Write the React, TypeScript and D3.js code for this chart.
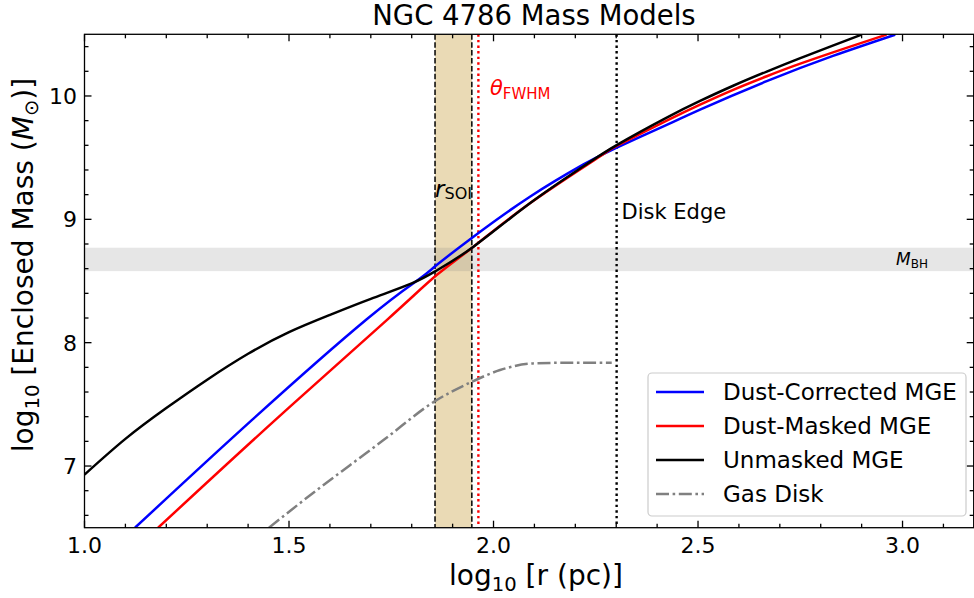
import React from "react";
import * as d3 from "d3";

const W = 974;
const H = 598;

const xDomain = [1.0, 3.174];
const yDomain = [6.5, 10.5];
const xMajor = [1.0, 1.5, 2.0, 2.5, 3.0];
const xMajorLabels = ["1.0", "1.5", "2.0", "2.5", "3.0"];
const yMajor = [7, 8, 9, 10];
const yMajorLabels = ["7", "8", "9", "10"];

const blueX = [1.1235, 1.409, 1.69, 1.816, 1.861, 1.951, 2.089, 2.22, 2.3, 2.4235, 2.505, 2.668, 2.83, 2.982];
const blueY = [6.5, 7.372, 8.19, 8.51, 8.629, 8.859, 9.183, 9.445, 9.58, 9.765, 9.89, 10.12, 10.325, 10.497];

const redX = [1.18, 1.466, 1.739, 1.861, 1.951, 2.089, 2.26, 2.301, 2.4235, 2.505, 2.586, 2.668, 2.75, 2.872, 2.961];
const redY = [6.5, 7.372, 8.183, 8.548, 8.778, 9.13, 9.51, 9.595, 9.8, 9.93, 10.05, 10.16, 10.262, 10.4, 10.497];

const blackX = [1.0, 1.1, 1.2, 1.3, 1.4, 1.5, 1.6, 1.7, 1.8, 1.861, 1.951, 2.089, 2.22, 2.3, 2.4235, 2.505, 2.586, 2.668, 2.75, 2.831, 2.9];
const blackY = [6.93, 7.22, 7.47, 7.7, 7.91, 8.085, 8.225, 8.355, 8.48, 8.585, 8.778, 9.13, 9.43, 9.6, 9.825, 9.96, 10.083, 10.198, 10.307, 10.41, 10.497];

const gasX = [1.451, 1.568, 1.649, 1.731, 1.857, 1.947, 2.016, 2.097, 2.179, 2.289];
const gasY = [6.5, 6.805, 7.007, 7.21, 7.526, 7.683, 7.778, 7.832, 7.837, 7.837];

const rSoi = [1.857, 1.947];
const thetaFwhm = 1.963;
const diskEdge = 2.301;
const mbhBand = [8.58, 8.77];

const legendLabels = ["Dust-Corrected MGE", "Dust-Masked MGE", "Unmasked MGE", "Gas Disk"];
const legendColors = ["blue", "red", "black", "gray"];

const FONT = "'DejaVu Sans', sans-serif";
const GAS_DASH = "13,3.6,2.6,3.6";

export default function App() {
  const left = 84.5, right = 973.7, top = 34.3, bottom = 527.7;
  const x = d3.scaleLinear().domain(xDomain).range([left, right]);
  const y = d3.scaleLinear().domain(yDomain).range([bottom, top]);

  const mk = (xs: number[], ys: number[], curve: d3.CurveFactory) =>
    d3.line<number>().x((_, i) => x(xs[i])).y((_, i) => y(ys[i])).curve(curve)(xs) as string;

  const xMinor = d3.range(10, 32).map((v) => v / 10).filter((v) => !xMajor.some((m) => Math.abs(m - v) < 1e-6));
  const yMinor = d3.range(33, 53).map((v) => v / 5).filter((v) => v < 10.5 && !yMajor.some((m) => Math.abs(m - v) < 1e-6));

  const tickW = 1.3;
  const MAJ = 7, MIN = 4;
  const LW = 2.5;

  return (
    <svg width={W} height={H} style={{ position: "absolute", left: 0, top: 0, background: "white" }} fontFamily={FONT}>
      <defs>
        <clipPath id="plot">
          <rect x={left} y={top} width={right - left} height={bottom - top} />
        </clipPath>
      </defs>
      <rect x={0} y={0} width={W} height={H} fill="white" />
      <g clipPath="url(#plot)">
        <rect x={x(rSoi[0])} y={top} width={x(rSoi[1]) - x(rSoi[0])} height={bottom - top} fill="darkgoldenrod" fillOpacity={0.3} />
        <rect x={left} y={y(mbhBand[1])} width={right - left} height={y(mbhBand[0]) - y(mbhBand[1])} fill="gray" fillOpacity={0.2} />
        {rSoi.map((v, i) => (
          <line key={i} x1={x(v)} x2={x(v)} y1={top} y2={bottom} stroke="black" strokeWidth={1.5} strokeDasharray="5.5,2.4" />
        ))}
        <line x1={x(thetaFwhm)} x2={x(thetaFwhm)} y1={top} y2={bottom} stroke="red" strokeWidth={2.4} strokeDasharray="2.4,3.2" />
        <line x1={x(diskEdge)} x2={x(diskEdge)} y1={top} y2={bottom} stroke="black" strokeWidth={2.4} strokeDasharray="2.4,3.2" />
        <path d={mk(gasX, gasY, d3.curveMonotoneX)} fill="none" stroke="gray" strokeWidth={LW} strokeDasharray={GAS_DASH} />
        <path d={mk(blueX, blueY, d3.curveNatural)} fill="none" stroke="blue" strokeWidth={LW} />
        <path d={mk(redX, redY, d3.curveNatural)} fill="none" stroke="red" strokeWidth={LW} />
        <path d={mk(blackX, blackY, d3.curveNatural)} fill="none" stroke="black" strokeWidth={LW} />
      </g>

      {/* spines */}
      <rect x={left} y={top} width={right - left} height={bottom - top} fill="none" stroke="black" strokeWidth={1.3} />

      {/* ticks */}
      {xMajor.map((v, i) => (
        <g key={"xm" + i}>
          <line x1={x(v)} x2={x(v)} y1={bottom} y2={bottom - MAJ} stroke="black" strokeWidth={tickW} />
          <line x1={x(v)} x2={x(v)} y1={top} y2={top + MAJ} stroke="black" strokeWidth={tickW} />
          <text x={x(v)} y={553} textAnchor="middle" fontSize={22}>{xMajorLabels[i]}</text>
        </g>
      ))}
      {xMinor.map((v, i) => (
        <g key={"xn" + i}>
          <line x1={x(v)} x2={x(v)} y1={bottom} y2={bottom - MIN} stroke="black" strokeWidth={tickW} />
          <line x1={x(v)} x2={x(v)} y1={top} y2={top + MIN} stroke="black" strokeWidth={tickW} />
        </g>
      ))}
      {yMajor.map((v, i) => (
        <g key={"ym" + i}>
          <line x1={left} x2={left + MAJ} y1={y(v)} y2={y(v)} stroke="black" strokeWidth={tickW} />
          <line x1={right} x2={right - MAJ} y1={y(v)} y2={y(v)} stroke="black" strokeWidth={tickW} />
          <text x={77} y={y(v)} dy="0.36em" textAnchor="end" fontSize={22}>{yMajorLabels[i]}</text>
        </g>
      ))}
      {yMinor.map((v, i) => (
        <g key={"yn" + i}>
          <line x1={left} x2={left + MIN} y1={y(v)} y2={y(v)} stroke="black" strokeWidth={tickW} />
          <line x1={right} x2={right - MIN} y1={y(v)} y2={y(v)} stroke="black" strokeWidth={tickW} />
        </g>
      ))}

      {/* title */}
      <text x={534} y={25} textAnchor="middle" fontSize={27.5}>NGC 4786 Mass Models</text>

      {/* x label */}
      <text x={536} y={585} textAnchor="middle" fontSize={28}>
        log<tspan fontSize={19.6} dy={6}>10</tspan><tspan dy={-6}> [r (pc)]</tspan>
      </text>

      {/* y label */}
      <text transform="translate(33,265) rotate(-90)" textAnchor="middle" fontSize={28}>
        log<tspan fontSize={19.6} dy={6}>10</tspan><tspan dy={-6}> [Enclosed Mass (</tspan><tspan fontStyle="italic">M</tspan><tspan fontSize={19.6} dy={5}>⊙</tspan><tspan dy={-5}>)]</tspan>
      </text>

      {/* annotations */}
      <text x={490} y={95} fontSize={21} fill="red">
        <tspan fontStyle="italic">θ</tspan><tspan fontSize={15} dy={4}>FWHM</tspan>
      </text>
      <text x={435} y={197} fontSize={23} fill="black">
        <tspan fontStyle="italic">r</tspan><tspan fontSize={16} dy={2}>SOI</tspan>
      </text>
      <text x={621.5} y={219} fontSize={21} fill="black">Disk Edge</text>
      <text x={896} y={265} fontSize={17} fill="black">
        <tspan fontStyle="italic">M</tspan><tspan fontSize={12} dy={3}>BH</tspan>
      </text>

      {/* legend */}
      <rect x={648} y={373} width={318} height={143} rx={4} fill="white" fillOpacity={0.8} stroke="#cccccc" strokeWidth={1.2} />
      {legendLabels.map((lab, i) => {
        const cy = 392 + i * 34;
        return (
          <g key={"lg" + i}>
            <line x1={656} x2={704} y1={cy} y2={cy} stroke={legendColors[i]} strokeWidth={LW}
              strokeDasharray={i === 3 ? GAS_DASH : undefined} />
            <text x={723} y={cy} dy="0.36em" fontSize={23}>{lab}</text>
          </g>
        );
      })}
    </svg>
  );
}
